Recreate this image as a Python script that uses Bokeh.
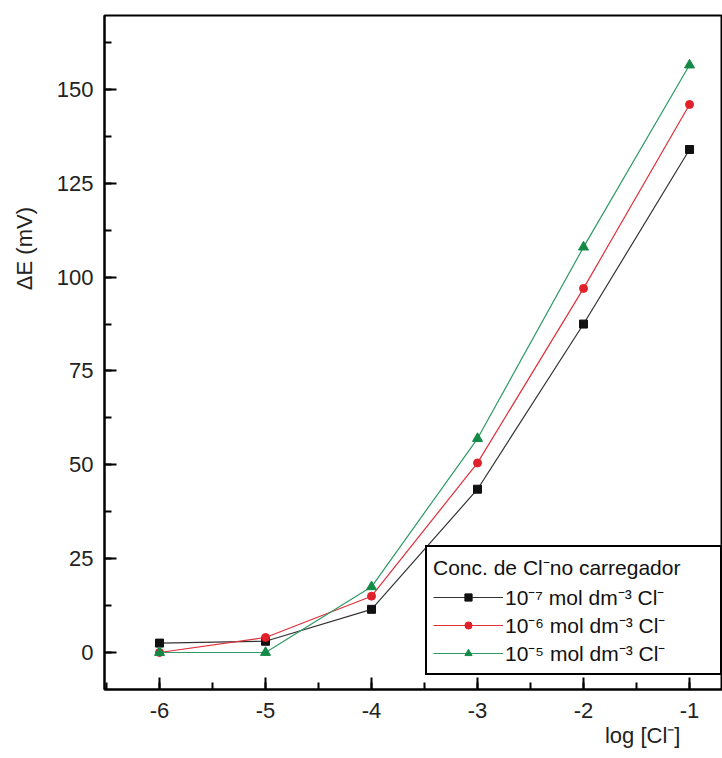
from bokeh.plotting import figure
from bokeh.models import (Legend, LegendItem, SingleIntervalTicker, Range1d,
                          CustomJSTickFormatter)
from bokeh.embed import file_html
from bokeh.resources import INLINE

log_cl = [-6, -5, -4, -3, -2, -1]
s_1e7 = [2.5, 3.0, 11.5, 43.5, 87.5, 134.0]
s_1e6 = [0.0, 4.0, 15.0, 50.5, 97.0, 146.0]
s_1e5 = [0.0, 0.0, 17.5, 57.0, 108.0, 156.5]
labels = ["10⁻⁷ mol dm⁻³ Cl⁻", "10⁻⁶ mol dm⁻³ Cl⁻", "10⁻⁵ mol dm⁻³ Cl⁻"]

FONT = "Liberation Sans"
W, H = 722, 758
NBSP = "\u00a0"

p = figure(width=W, height=H, output_backend="svg", toolbar_location=None,
           x_range=Range1d(-6.519, -0.689), y_range=Range1d(-9.86, 169.7),
           min_border_left=104, min_border_right=0, min_border_top=15, min_border_bottom=69)
p.background_fill_color = "white"
p.border_fill_color = "white"
p.outline_line_color = "black"
p.outline_line_width = 2
p.outline_line_alpha = 1
p.grid.visible = False

p.xaxis.ticker = SingleIntervalTicker(interval=1, num_minor_ticks=2)
p.yaxis.ticker = SingleIntervalTicker(interval=25, num_minor_ticks=2)
fmt = CustomJSTickFormatter(code="return tick.toFixed(0);")
for ax in (p.xaxis[0], p.yaxis[0]):
    ax.formatter = fmt
    ax.axis_line_width = 2
    ax.axis_line_color = "black"
    ax.major_tick_in = 12
    ax.major_tick_out = 0
    ax.minor_tick_in = 7
    ax.minor_tick_out = 0
    ax.major_tick_line_width = 2
    ax.minor_tick_line_width = 2
    ax.major_label_text_font = FONT
    ax.major_label_text_font_size = "22px"
    ax.major_label_text_color = "#222222"
    ax.axis_label_text_font = FONT
    ax.axis_label_text_font_size = "22px"
    ax.axis_label_text_font_style = "normal"
    ax.axis_label_text_color = "#222222"
p.xaxis.major_label_standoff = 13
p.yaxis.major_label_standoff = 11
# axis titles are placed off-centre in the reference: padded with no-break spaces
p.yaxis.axis_label = NBSP * 34 + "ΔE (mV)"
p.yaxis.axis_label_standoff = 17
p.xaxis.axis_label = NBSP * 75 + "log [Cl⁻]"
p.xaxis.axis_label_standoff = 2

colors = ["#333333", "#e0303a", "#2e9a66"]
mcolors = ["#111111", "#e0202a", "#138a45"]
markers = ["square", "circle", "triangle"]
msizes = [8, 8, 10]
items = []
for ys, c, mc, mk, ms, lab in zip([s_1e7, s_1e6, s_1e5], colors, mcolors, markers, msizes, labels):
    l = p.line(log_cl, ys, line_color=c, line_width=1.2)
    s = p.scatter(log_cl, ys, marker=mk, size=ms, fill_color=mc, line_color=mc)
    items.append(LegendItem(label=lab, renderers=[l, s]))

leg = Legend(items=items, location=(321, 14), title="Conc. de Cl⁻no carregador",
             title_text_font=FONT, title_text_font_size="21px", title_text_font_style="normal",
             title_text_color="#111111", title_standoff=2,
             label_text_font=FONT, label_text_font_size="21px", label_text_color="#111111",
             glyph_width=70, glyph_height=18, label_height=18, label_standoff=2,
             label_width=209, spacing=0, padding=6, margin=0,
             border_line_color="black", border_line_width=2, border_line_alpha=1,
             background_fill_color="white", background_fill_alpha=1)
p.add_layout(leg)

open("out.html", "w").write(file_html(p, INLINE))
